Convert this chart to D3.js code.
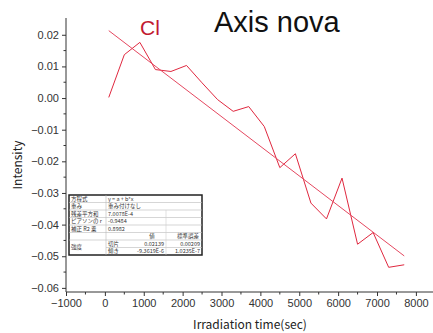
<!DOCTYPE html>
<html>
<head>
<meta charset="utf-8">
<script src="https://cdn.jsdelivr.net/npm/d3@7"></script>
<style>
  body { margin: 0; background: #fff; }
  svg { display: block; }
</style>
</head>
<body>
<div id="chart"></div>
<script>
// irradiation time (sec) and measured intensity
var times = [100, 500, 900, 1300, 1700, 2100, 2500, 2900, 3300, 3700, 4100, 4500, 4900, 5300, 5700, 6100, 6500, 6900, 7300, 7700];
var intensity = [0.0002, 0.0137, 0.0176, 0.0090, 0.0084, 0.0103, 0.0048, -0.0005, -0.0042, -0.0027, -0.0090, -0.0220, -0.0176, -0.0332, -0.0382, -0.0253, -0.0462, -0.0425, -0.0535, -0.0527];

// linear fit line ends
var fitX = [100, 7700];
var fitY = [0.0213, -0.0499];

var xTicks = [-1000, 0, 1000, 2000, 3000, 4000, 5000, 6000, 7000, 8000];
var yTicks = [-0.06, -0.05, -0.04, -0.03, -0.02, -0.01, 0.00, 0.01, 0.02];

// fit report table rows
var tableRows = [
  ["方程式", "y = a + b*x", "", ""],
  ["重み", "重み付けなし", "", ""],
  ["残差平方和", "7.0078E-4", "", ""],
  ["ピアソンの r", "-0.9484", "", ""],
  ["補正 R2 乗", "0.8982", "", ""],
  ["", "", "値", "標準誤差"],
  ["強度", "切片", "0.02139", "0.00209"],
  ["", "傾き", "-9.3619E-6", "1.0235E-7"]
];

var W = 433, H = 333;
var svg = d3.select("#chart").append("svg")
  .attr("width", W).attr("height", H);

var x = d3.scaleLinear().domain([-1000, 8440]).range([66, 433]);
var y = d3.scaleLinear().domain([-0.0613, 0.0253]).range([292, 18]);

var axisColor = "#333";
var fmtY = d3.format(".2f");

// minor ticks
var xMinor = d3.range(-500, 8500, 1000);
var yMinor = d3.range(-0.055, 0.025, 0.01);

svg.append("g")
  .attr("transform", "translate(0,292)")
  .call(d3.axisBottom(x).tickValues(xTicks).tickFormat(d3.format("d")).tickSize(4).tickPadding(3))
  .call(g => g.select(".domain").attr("stroke", axisColor).attr("d", "M66,0H433"))
  .call(g => g.selectAll(".tick line").attr("stroke", axisColor))
  .call(g => g.selectAll("text").attr("fill", "#333").style("font", "11px 'Liberation Sans', Arial, sans-serif"));

svg.append("g")
  .attr("transform", "translate(0,292)")
  .selectAll("line").data(xMinor).join("line")
  .attr("x1", d => x(d)).attr("x2", d => x(d))
  .attr("y1", 0).attr("y2", 2.5).attr("stroke", axisColor);

svg.append("g")
  .attr("transform", "translate(66,0)")
  .call(d3.axisLeft(y).tickValues(yTicks).tickFormat(d => fmtY(d).replace("-", "−")).tickSize(4).tickPadding(3))
  .call(g => g.select(".domain").attr("stroke", axisColor).attr("d", "M0,18V292"))
  .call(g => g.selectAll(".tick line").attr("stroke", axisColor))
  .call(g => g.selectAll("text").attr("fill", "#333").style("font", "11px 'Liberation Sans', Arial, sans-serif"));

svg.append("g")
  .attr("transform", "translate(66,0)")
  .selectAll("line").data(yMinor).join("line")
  .attr("x1", 0).attr("x2", -2.5)
  .attr("y1", d => y(d)).attr("y2", d => y(d)).attr("stroke", axisColor);

// axis titles
svg.append("text")
  .attr("x", 250).attr("y", 329)
  .attr("text-anchor", "middle")
  .style("font", "12px 'Noto Sans CJK JP', sans-serif")
  .attr("fill", "#222")
  .text("Irradiation time(sec)");

svg.append("text")
  .attr("transform", "translate(22,165) rotate(-90)")
  .attr("text-anchor", "middle")
  .style("font", "12px 'Noto Sans CJK JP', sans-serif")
  .attr("fill", "#222")
  .text("Intensity");

// data line
var pts = times.map((t, i) => [t, intensity[i]]);
svg.append("path")
  .datum(pts)
  .attr("fill", "none")
  .attr("stroke", "#e0283f")
  .attr("stroke-width", 1)
  .attr("d", d3.line().x(d => x(d[0])).y(d => y(d[1])));

// fit line
svg.append("path")
  .datum(fitX.map((t, i) => [t, fitY[i]]))
  .attr("fill", "none")
  .attr("stroke", "#e54860")
  .attr("stroke-width", 1)
  .attr("d", d3.line().x(d => x(d[0])).y(d => y(d[1])));

// titles
svg.append("text")
  .attr("x", 214).attr("y", 32)
  .style("font", "29px 'Liberation Sans', Arial, sans-serif")
  .attr("fill", "#111")
  .text("Axis nova");

svg.append("text")
  .attr("x", 140).attr("y", 35)
  .style("font", "21px 'Liberation Sans', Arial, sans-serif")
  .attr("fill", "#c21a30")
  .text("Cl");

// inset fit table
var tx = 69, ty = 195, tw = 133, th = 60;
var colX = [tx, tx + 37, tx + 52, tx + 97, tw + tx];
var rowH = th / tableRows.length;
var tbl = svg.append("g");
tbl.append("rect")
  .attr("x", tx).attr("y", ty).attr("width", tw).attr("height", th)
  .attr("fill", "#fff").attr("stroke", "#222").attr("stroke-width", 1.5);

tableRows.forEach(function (row, i) {
  var ry = ty + i * rowH;
  if (i > 0) {
    tbl.append("line")
      .attr("x1", i === 7 ? colX[1] : tx).attr("x2", tx + tw)
      .attr("y1", ry).attr("y2", ry)
      .attr("stroke", "#bbb").attr("stroke-width", 0.6);
  }
  var cells = i < 5 ? [[row[0], colX[0] + 2], [row[1], colX[1] + 2]]
    : [[row[0], colX[0] + 2], [row[1], colX[1] + 2], [row[2], colX[3] - 2, "end"], [row[3], colX[4] - 2, "end"]];
  if (i === 5) cells = [[row[2], colX[3] - 14, "middle"], [row[3], colX[4] - 14, "middle"]];
  cells.forEach(function (c) {
    tbl.append("text")
      .attr("x", c[1]).attr("y", (i === 6 && c[0] === "強度") ? ry + rowH * 1.2 : ry + rowH - 1.6)
      .attr("text-anchor", c[2] || "start")
      .style("font", "5.5px 'Noto Sans CJK JP', sans-serif")
      .attr("fill", "#333")
      .text(c[0]);
  });
});
tbl.append("line")
  .attr("x1", colX[1]).attr("x2", colX[1]).attr("y1", ty).attr("y2", ty + th)
  .attr("stroke", "#bbb").attr("stroke-width", 0.6);
tbl.append("line")
  .attr("x1", colX[3]).attr("x2", colX[3]).attr("y1", ty + 2 * rowH).attr("y2", ty + th)
  .attr("stroke", "#ccc").attr("stroke-width", 0.6);
</script>
</body>
</html>
